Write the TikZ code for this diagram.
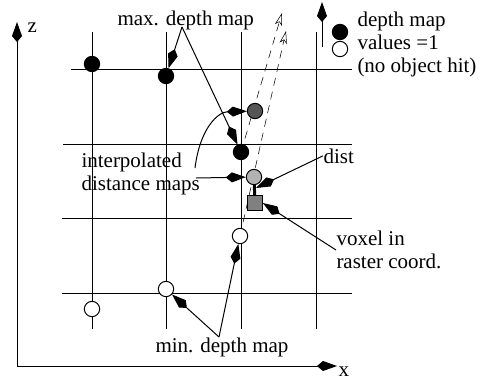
\documentclass[tikz,border=0pt]{standalone}
\usepackage{fontspec}
\setmainfont{Liberation Serif}
\usetikzlibrary{arrows.meta}
\usetikzlibrary{backgrounds}

\begin{document}
\begin{tikzpicture}[x=0.75pt,y=0.75pt,yscale=-1,xscale=1,
  line width=0.75pt,
  every node/.style={font=\fontsize{15.75}{17.25}\selectfont, inner sep=0pt},
  dotmark/.style={circle, draw, line width=0.75pt, minimum size=11.5pt},
  annot/.style={-{Kite[length=15pt,width=7.5pt,inset=4.5pt]}},
  rayline/.style={dash pattern=on 6pt off 4.5pt, -{Stealth[open,length=9.5pt,width=5.5pt,inset=2.5pt]}}]
\path (0,0) rectangle (482,379);

%Grid: vertical lines
\foreach \gx in {92,166,241,316}
  \draw (\gx,32) -- (\gx,329);
%Grid: horizontal lines
\draw (71,69) -- (352,69);
\draw (63,144) -- (352,144);
\draw (62,218) -- (352,218);
\draw (62,293) -- (352,293);

%Axes
\coordinate (org) at (17,366);
\coordinate (ztip) at (17,22);
\coordinate (xtip) at (337,366);
\draw [annot] (org) -- (ztip);
\draw [annot] (org) -- (xtip);
% Text Node
\node (zlab) [anchor=base west] at (27,32) {z};
% Text Node
\node (xlab) [anchor=base west] at (338,376) {x};

%Depth map samples
\node (b1) [dotmark, fill=black] at (92,64) {};
\node (b2) [dotmark, fill=black] at (166,76) {};
\node (b3) [dotmark, fill=black] at (241,152) {};
\node (g1) [dotmark, fill={rgb,255:red,85;green,85;blue,85}] at (255,111) {};
\node (g2) [dotmark, fill={rgb,255:red,178;green,178;blue,178}] at (254,177) {};
\node (vox) [draw, fill={rgb,255:red,128;green,128;blue,128}, minimum size=11pt] at (255,203) {};
\node (w1) [dotmark, fill=white] at (240,236) {};
\node (w2) [dotmark, fill=white] at (166,289) {};
\node (w3) [dotmark, fill=white] at (92,309) {};
\draw [line width=2.25pt] (g2) -- (vox);

%Rays
\coordinate (t1) at (282,13);
\coordinate (t2) at (286,31);
\begin{scope}[on background layer]
\draw [rayline] (b3.center) -- (t1);
\draw [rayline] (w1.center) -- (t2);
\end{scope}

%Legend
\coordinate (lbot) at (322,47);
\coordinate (ltop) at (322,2);
\draw [annot] (lbot) -- (ltop);
\node (lb) [dotmark, fill=black] at (340,32) {};
\node (lw) [dotmark, fill=white] at (340,49) {};
% Text Node
\node (leg) [anchor=west, align=left] at (357,44) {depth map\\values =1\\(no object hit)};

% Text Node
\node (maxl) [anchor=base west] at (117,25) {max. depth map};
\coordinate (mx) at (182,27);
\draw [annot] (mx) -- (b2);
\draw [annot] (mx) -- (b3);

% Text Node
\node (ipl) [anchor=west, align=left] at (81,174) {interpolated\\distance maps};
\coordinate (ic) at (195,168);
\coordinate (is) at (196,178);
\draw [annot] (ic) .. controls (200,128) and (218,112) .. (g1);
\draw [annot] (is) -- (g2);

% Text Node
\node (dl) [anchor=base west] at (323,163) {dist};
\coordinate (seg) at (256,188);
\draw [annot] (dl.west) -- (seg);

% Text Node
\node (vl) [anchor=west, align=left] at (336,250) {voxel in\\raster coord.};
\draw [annot] (vl.west) -- (vox.east);

% Text Node
\node (minl) [anchor=base west] at (155,352) {min. depth map};
\coordinate (mn) at (219,337);
\draw [annot] (mn) -- (w2);
\draw [annot] (mn) -- (w1);

\end{tikzpicture}
\end{document}
